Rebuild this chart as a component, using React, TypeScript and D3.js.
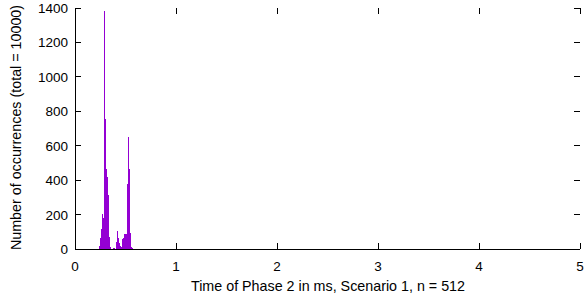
import React from "react";
import * as d3 from "d3";

const binStarts = [0.24,0.25,0.26,0.27,0.28,0.29,0.30,0.31,0.32,0.33,0.34,0.35,0.36,0.37,0.38,0.39,0.40,0.41,0.42,0.43,0.44,0.45,0.46,0.47,0.48,0.49,0.50,0.51,0.52,0.53,0.54,0.55,0.56];
const counts = [20,65,119,204,181,1385,758,466,417,311,67,10,2,1,3,5,0,40,103,61,34,20,14,59,63,88,88,375,650,462,94,10,3];
const binWidth = 0.01;
const xTicks = [0,1,2,3,4,5];
const yTicks = [0,200,400,600,800,1000,1200,1400];
const xLabel = "Time of Phase 2 in ms, Scenario 1, n = 512";
const yLabel = "Number of occurrences (total = 10000)";

const W = 584, H = 299;
const L = 75, R = 580, T = 8, B = 249;
const TL = 6;

export default function App() {
  const x = d3.scaleLinear().domain([0, 5]).range([L, R]);
  const y = d3.scaleLinear().domain([0, 1400]).range([B, T]);
  const font = "'Liberation Sans', Arial, sans-serif";
  return (
    <svg width={W} height={H} style={{ position: "absolute", left: 0, top: 0, background: "#fff" }} fontFamily={font}>
      <g>
        {binStarts.map((b, i) => (
          <rect key={i} x={x(b)} width={x(b + binWidth) - x(b)} y={y(counts[i])} height={y(0) - y(counts[i])} fill="#9400d3" shapeRendering="crispEdges" />
        ))}
      </g>
      <g stroke="#000" strokeWidth={1} shapeRendering="crispEdges">
        <line x1={L} x2={R} y1={B} y2={B} />
        <line x1={L} x2={L} y1={T} y2={B} />
        {xTicks.map((t) => (
          <g key={"xt" + t}>
            <line x1={x(t)} x2={x(t)} y1={B} y2={B - TL} />
            <line x1={x(t)} x2={x(t)} y1={T} y2={T + TL} />
          </g>
        ))}
        {yTicks.map((t) => (
          <g key={"yt" + t}>
            <line x1={L} x2={L + TL} y1={y(t)} y2={y(t)} />
            <line x1={R} x2={R - TL} y1={y(t)} y2={y(t)} />
          </g>
        ))}
      </g>
      <g fontSize={13.5} fill="#000">
        {xTicks.map((t) => (
          <text key={"xl" + t} x={x(t)} y={B + 22} textAnchor="middle">{t}</text>
        ))}
        {yTicks.map((t) => (
          <text key={"yl" + t} x={L - 7} y={y(t) + 5} textAnchor="end">{t}</text>
        ))}
      </g>
      <g fontSize={14.3} fill="#000">
        <text x={328} y={291} textAnchor="middle">{xLabel}</text>
        <text transform={`translate(21,${(T + B) / 2 - 1}) rotate(-90)`} textAnchor="middle">{yLabel}</text>
      </g>
    </svg>
  );
}
